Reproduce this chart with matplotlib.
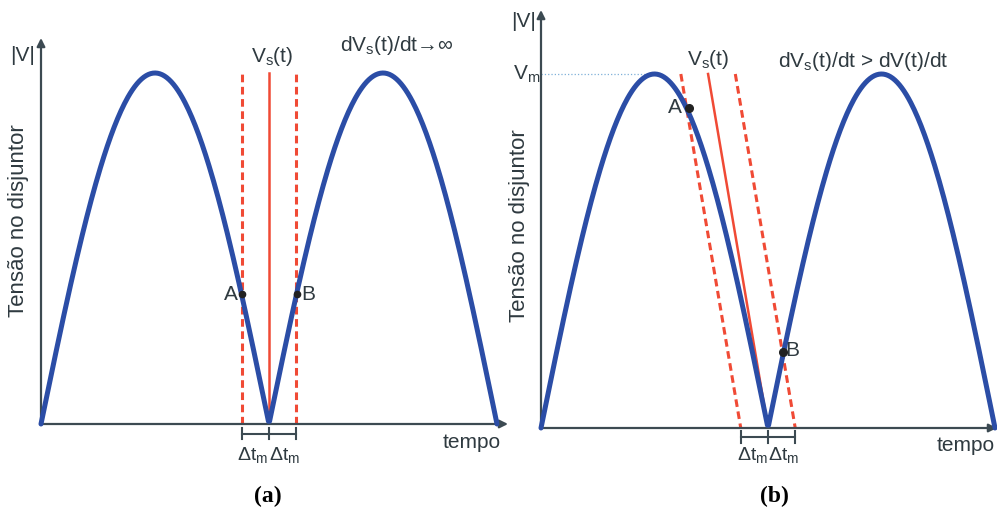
import numpy as np
import matplotlib
matplotlib.use('Agg')
from matplotlib import pyplot as plt

plt.rcParams['font.family'] = ['Liberation Sans', 'DejaVu Sans']
plt.rcParams['mathtext.fontset'] = 'custom'
plt.rcParams['mathtext.rm'] = 'Liberation Sans'
plt.rcParams['mathtext.it'] = 'Liberation Sans'

# tempo em semi-periodos, tensao normalizada por Vm
semi_periodos = 2
n_pts = 400
vm = 1.0

# (a) tensao de suporte vertical
vs_a_t = 1.0
dtm_a = 0.12
pts_a = {'A': (0.882, 0.37), 'B': (1.123, 0.37)}

# (b) tensao de suporte inclinada
vs_b_t0 = 1.0       # onde cruza o eixo
vs_b_t1 = 0.736     # onde chega a Vm
dtm_b = 0.12
pts_b = {'A': (0.652, 0.904), 'B': (1.066, 0.215)}

azul = '#2B4DA6'
verm = '#F04A35'
cinza = '#3C4A52'
txt = '#2F3A40'

t = np.linspace(0, semi_periodos, n_pts)
v = vm * np.abs(np.sin(np.pi * t))

fig = plt.figure(figsize=(9.97, 5.11), dpi=100)
ax1 = fig.add_axes([41/997, 87/511, 467/997, 386/511])
ax2 = fig.add_axes([541/997, 83/511, 456/997, 418/511])
ax1.set_xlim(0, 467/228); ax1.set_ylim(0, 386/351)
ax2.set_xlim(0, 456/227); ax2.set_ylim(0, 418/354)

for ax in (ax1, ax2):
    ax.axis('off')
    x0, x1 = ax.get_xlim(); y0, y1 = ax.get_ylim()
    ax.annotate('', xy=(x1, 0), xytext=(0, 0), annotation_clip=False,
                arrowprops=dict(arrowstyle='-|>', color=cinza, lw=1.6, mutation_scale=12, shrinkA=0, shrinkB=0))
    ax.annotate('', xy=(0, y1), xytext=(0, 0), annotation_clip=False,
                arrowprops=dict(arrowstyle='-|>', color=cinza, lw=1.6, mutation_scale=12, shrinkA=0, shrinkB=0))
    ax.plot(t, v, color=azul, lw=3.6, solid_capstyle='round', zorder=3, clip_on=False)

# ---- (a)
ax1.plot([vs_a_t, vs_a_t], [0, vm], color=verm, lw=1.8, zorder=2)
for dt in (-dtm_a, dtm_a):
    ax1.plot([vs_a_t + dt]*2, [0, vm], color=verm, lw=2.2, ls=(0, (2.5, 1.5)), zorder=2)
for k, (ta, va) in pts_a.items():
    ax1.plot(ta, va, 'o', color='#222222', ms=4.5, zorder=4)
ax1.text(pts_a['A'][0] - 0.02, pts_a['A'][1], 'A', ha='right', va='center', fontsize=15, color=txt)
ax1.text(pts_a['B'][0] + 0.02, pts_a['B'][1], 'B', ha='left', va='center', fontsize=15, color=txt)
yb = -0.028
ax1.plot([vs_a_t - dtm_a, vs_a_t + dtm_a], [yb, yb], color=cinza, lw=1.5, clip_on=False)
for tk in (vs_a_t - dtm_a, vs_a_t, vs_a_t + dtm_a):
    ax1.plot([tk, tk], [yb - 0.016, yb + 0.016], color=cinza, lw=1.5, clip_on=False)
ax1.text(vs_a_t - dtm_a/2 - 0.01, -0.088, r'$\Delta$t$_{\rm m}$', ha='center', va='center', fontsize=14, color=txt)
ax1.text(vs_a_t + dtm_a/2 + 0.01, -0.088, r'$\Delta$t$_{\rm m}$', ha='center', va='center', fontsize=14, color=txt)
ax1.text(1.89, -0.054, 'tempo', ha='center', va='center', fontsize=15, color=txt)
ax1.text(-0.083, 1.051, '|V|', ha='center', va='center', fontsize=15, color=txt)
ax1.text(-0.098, 0.58, 'Tensão no disjuntor', ha='center', va='center', rotation=90, fontsize=16, color=txt)
ax1.text(1.013, 1.046, r'V$_{\rm s}$(t)', ha='center', va='center', fontsize=15, color=txt)
ax1.text(1.561, 1.077, r'dV$_{\rm s}$(t)/dt→∞', ha='center', va='center', fontsize=15, color=txt)

# ---- (b)
ax2.plot([vs_b_t1, vs_b_t0], [vm, 0], color=verm, lw=1.8, zorder=2)
for dt in (-dtm_b, dtm_b):
    ax2.plot([vs_b_t1 + dt, vs_b_t0 + dt], [vm, 0], color=verm, lw=2.2, ls=(0, (2.5, 1.5)), zorder=2)
ax2.plot([0, 0.5], [vm, vm], color='#7FB0D8', lw=0.9, ls=':', zorder=1)
for k, (tb, vb) in pts_b.items():
    ax2.plot(tb, vb, 'o', color='#222222', ms=5.5, zorder=4)
ax2.text(pts_b['A'][0] - 0.03, pts_b['A'][1], 'A', ha='right', va='center', fontsize=15, color=txt)
ax2.text(pts_b['B'][0] + 0.01, pts_b['B'][1] + 0.005, 'B', ha='left', va='center', fontsize=15, color=txt)
yb = -0.025
ax2.plot([vs_b_t0 - dtm_b, vs_b_t0 + dtm_b], [yb, yb], color=cinza, lw=1.5, clip_on=False)
for tk in (vs_b_t0 - dtm_b, vs_b_t0, vs_b_t0 + dtm_b):
    ax2.plot([tk, tk], [yb - 0.016, yb + 0.016], color=cinza, lw=1.5, clip_on=False)
ax2.text(vs_b_t0 - dtm_b/2 - 0.01, -0.076, r'$\Delta$t$_{\rm m}$', ha='center', va='center', fontsize=14, color=txt)
ax2.text(vs_b_t0 + dtm_b/2 + 0.01, -0.076, r'$\Delta$t$_{\rm m}$', ha='center', va='center', fontsize=14, color=txt)
ax2.text(1.745, -0.05, 'tempo', ha='left', va='center', fontsize=15, color=txt, clip_on=False)
ax2.text(-0.079, 1.147, '|V|', ha='center', va='center', fontsize=15, color=txt)
ax2.text(-0.062, 1.0, r'V$_{\rm m}$', ha='center', va='center', fontsize=15, color=txt)
ax2.text(-0.093, 0.573, 'Tensão no disjuntor', ha='center', va='center', rotation=90, fontsize=16, color=txt)
ax2.text(0.736, 1.04, r'V$_{\rm s}$(t)', ha='center', va='center', fontsize=15, color=txt)
ax2.text(1.418, 1.034, r'dV$_{\rm s}$(t)/dt > dV(t)/dt', ha='center', va='center', fontsize=15, color=txt)

fig.text(268/997, 1 - 496/511, '(a)', ha='center', va='center', fontsize=17, fontweight='bold', family='Liberation Serif')
fig.text(774/997, 1 - 496/511, '(b)', ha='center', va='center', fontsize=17, fontweight='bold', family='Liberation Serif')

fig.savefig('out.png', dpi=100)
